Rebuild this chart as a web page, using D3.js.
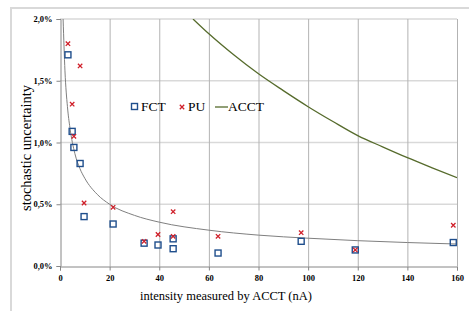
<!DOCTYPE html>
<html>
<head>
<meta charset="utf-8">
<script src="https://cdn.jsdelivr.net/npm/d3@7"></script>
<style>
  body { margin: 0; background: #fff; }
  svg text { font-family: "Liberation Serif", "Times New Roman", serif; }
</style>
</head>
<body>
<script>
// measured points
const fctX = [3.2, 4.9, 5.6, 8.1, 9.7, 21.4, 33.9, 39.5, 45.6, 45.6, 63.7, 97.2, 119, 158.5];
const fctY = [1.71, 1.09, 0.96, 0.83, 0.40, 0.34, 0.185, 0.17, 0.22, 0.14, 0.105, 0.20, 0.13, 0.19];
const puX = [3.2, 4.9, 5.6, 8.1, 9.7, 21.4, 33.9, 39.5, 45.6, 45.6, 63.7, 97.2, 119, 158.5];
const puY = [1.80, 1.31, 1.05, 1.62, 0.51, 0.475, 0.20, 0.255, 0.44, 0.24, 0.24, 0.27, 0.13, 0.33];

// fitted grey curve
const fitX = [1.25, 2, 3, 4, 6, 8, 10, 15, 20, 30, 40, 60, 80, 100, 120, 140, 160];
const fitY = [2.0, 1.58, 1.29, 1.12, 0.91, 0.79, 0.71, 0.58, 0.50, 0.41, 0.355, 0.29, 0.25, 0.225, 0.205, 0.19, 0.178];

// ACCT curve
const acctX = [53.6, 60, 70, 80, 90, 100, 110, 120, 130, 140, 150, 160];
const acctY = [2.0, 1.88, 1.71, 1.556, 1.42, 1.29, 1.17, 1.056, 0.965, 0.877, 0.795, 0.715];

const xTicks = [0, 20, 40, 60, 80, 100, 120, 140, 160];
const yTicks = [0, 0.5, 1.0, 1.5, 2.0];
const legendNames = ["FCT", "PU", "ACCT"];

const W = 469, H = 311;
const svg = d3.select("body").append("svg").attr("width", W).attr("height", H);

// chart frame
svg.append("rect")
    .attr("x", 11).attr("y", 8)
    .attr("width", W + 10).attr("height", H + 10)
    .attr("fill", "#fff")
    .attr("stroke", "#d9d9d9")
    .attr("stroke-width", 2);

const x = d3.scaleLinear().domain([0, 160]).range([60, 457]);
const y = d3.scaleLinear().domain([0, 2.0]).range([266, 19]);

//grid
svg.append("g").selectAll("line")
    .data(yTicks.slice(1))
    .enter().append("line")
    .attr("x1", x(0)).attr("x2", x(160))
    .attr("y1", d => y(d)).attr("y2", d => y(d))
    .attr("stroke", "#d9d9d9").attr("stroke-width", 1.6);

svg.append("g").selectAll("line")
    .data(xTicks.slice(1))
    .enter().append("line")
    .attr("x1", d => x(d) + 0.5).attr("x2", d => x(d) + 0.5)
    .attr("y1", y(2.0)).attr("y2", y(0))
    .attr("stroke", "#b3b3b3").attr("stroke-width", 1);

// axes
const fmtPct = d => d.toFixed(1).replace(".", ",") + "%";

const yAxis = svg.append("g")
    .attr("transform", "translate(" + (x(0) + 0.5) + ",0)")
    .call(d3.axisLeft(y).tickValues(yTicks).tickFormat(fmtPct).tickSizeOuter(0).tickSize(4).tickPadding(4));

const xAxis = svg.append("g")
    .attr("transform", "translate(0," + (y(0) + 0.5) + ")")
    .call(d3.axisBottom(x).tickValues(xTicks).tickFormat(d3.format("d")).tickSizeOuter(0).tickSize(4).tickPadding(4));

[xAxis, yAxis].forEach(a => {
    a.select(".domain").attr("stroke", "#868686");
    a.selectAll(".tick line").attr("stroke", "#868686");
    a.selectAll("text")
        .attr("fill", "#000")
        .style("font-family", "'Liberation Serif', serif")
        .style("font-size", "8.5px")
        .style("font-weight", "bold");
});

// clip for curves
svg.append("clipPath").attr("id", "plot")
    .append("rect")
    .attr("x", x(0)).attr("y", y(2.0))
    .attr("width", x(160) - x(0)).attr("height", y(0) - y(2.0));

const line = d3.line()
    .x(d => x(d[0]))
    .y(d => y(d[1]))
    .curve(d3.curveMonotoneX);

svg.append("path")
    .datum(d3.zip(fitX, fitY))
    .attr("clip-path", "url(#plot)")
    .attr("fill", "none")
    .attr("stroke", "#7f7f7f")
    .attr("stroke-width", 1)
    .attr("d", line);

svg.append("path")
    .datum(d3.zip(acctX, acctY))
    .attr("clip-path", "url(#plot)")
    .attr("fill", "none")
    .attr("stroke", "#566b2c")
    .attr("stroke-width", 1.3)
    .attr("d", line);

// markers
const crossPath = s => "M" + (-s) + "," + (-s) + "L" + s + "," + s + "M" + (-s) + "," + s + "L" + s + "," + (-s);

svg.append("g").selectAll("rect")
    .data(d3.zip(fctX, fctY))
    .enter().append("rect")
    .attr("x", d => x(d[0]) - 3)
    .attr("y", d => y(d[1]) - 3)
    .attr("width", 6).attr("height", 6)
    .attr("fill", "none")
    .attr("stroke", "#1f4e8c")
    .attr("stroke-width", 1.4);

svg.append("g").selectAll("path")
    .data(d3.zip(puX, puY))
    .enter().append("path")
    .attr("transform", d => "translate(" + x(d[0]) + "," + y(d[1]) + ")")
    .attr("d", crossPath(2.2))
    .attr("stroke", "#d0202a")
    .attr("stroke-width", 1.3);

// legend
const lg = svg.append("g");
lg.append("rect")
    .attr("x", 131.5).attr("y", 103.5).attr("width", 6).attr("height", 6)
    .attr("fill", "none").attr("stroke", "#1f4e8c").attr("stroke-width", 1.4);
lg.append("text").attr("x", 141).attr("y", 111).style("font-size", "13.5px").text(legendNames[0]);
lg.append("path")
    .attr("transform", "translate(182,107)")
    .attr("d", crossPath(2.2))
    .attr("stroke", "#d0202a").attr("stroke-width", 1.3);
lg.append("text").attr("x", 188).attr("y", 111).style("font-size", "13.5px").text(legendNames[1]);
lg.append("line")
    .attr("x1", 215).attr("x2", 228).attr("y1", 107).attr("y2", 107)
    .attr("stroke", "#566b2c").attr("stroke-width", 1.3);
lg.append("text").attr("x", 228).attr("y", 111).style("font-size", "13.5px").text(legendNames[2]);

// axis titles
svg.append("text")
    .attr("transform", "translate(31,148) rotate(-90)")
    .attr("text-anchor", "middle")
    .style("font-size", "14.5px")
    .text("stochastic uncertainty");

svg.append("text")
    .attr("x", 226).attr("y", 300)
    .attr("text-anchor", "middle")
    .style("font-size", "12.5px")
    .text("intensity measured by ACCT (nA)");
</script>
</body>
</html>
